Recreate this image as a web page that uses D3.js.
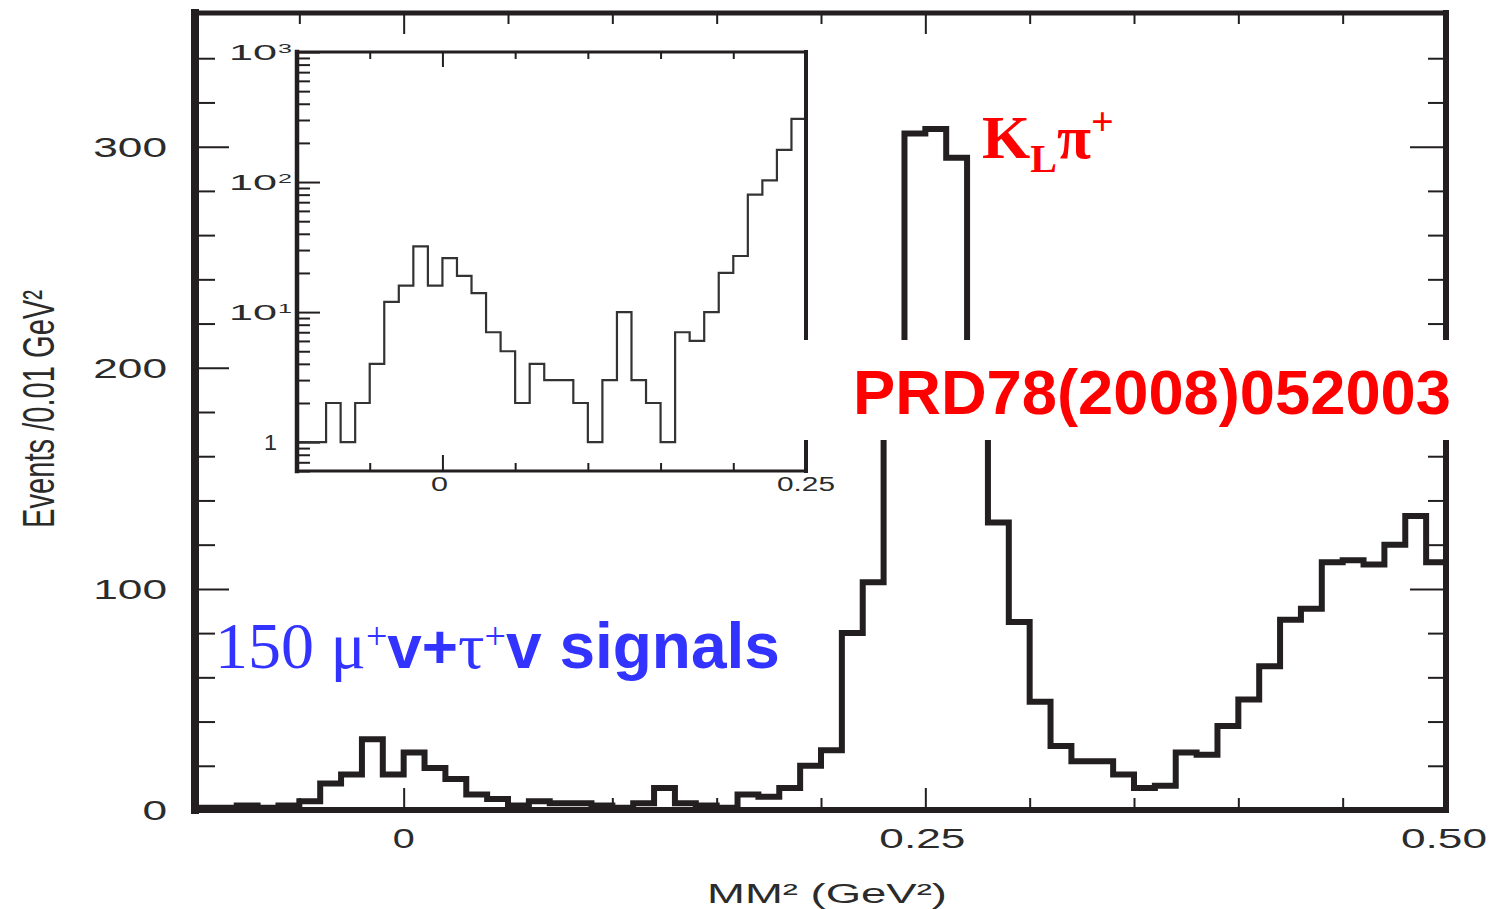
<!DOCTYPE html>
<html><head><meta charset="utf-8">
<script src="https://cdn.jsdelivr.net/npm/d3@7"></script>
<style>html,body{margin:0;padding:0;background:#fff;} svg{display:block}</style>
</head><body>
<svg id="c" width="1493" height="909"></svg>
<script>
// ---- data (events per 0.01 GeV^2 bin, lower bin edges) ----
const binLow = [-0.10,-0.09,-0.08,-0.07,-0.06,-0.05,-0.04,-0.03,-0.02,-0.01,
  0.00,0.01,0.02,0.03,0.04,0.05,0.06,0.07,0.08,0.09,
  0.10,0.11,0.12,0.13,0.14,0.15,0.16,0.17,0.18,0.19,
  0.20,0.21,0.22,0.23,0.24,0.25,0.26,0.27,0.28,0.29,
  0.30,0.31,0.32,0.33,0.34,0.35,0.36,0.37,0.38,0.39,
  0.40,0.41,0.42,0.43,0.44,0.45,0.46,0.47,0.48,0.49];
const counts = [1,1,2,1,2,4,12,16,32,16,
  26,19,14,7,5,2,4,3,3,2,
  1,3,10,3,2,1,7,6,10,20,
  27,80,103,177,306,308,295,190,130,85,
  49,29,22,22,16,10,11,26,25,38,
  50,65,86,91,112,113,111,120,133,112];
const binWidth = 0.01;

const mainYMajor = [0,100,200,300];
const mainYMinor = [20,40,60,80,120,140,160,180,220,240,260,280,320,340];
const mainYLabels = ["0","100","200","300"];
const mainXMajor = [0,0.25,0.5];
const mainXMinor = [-0.05,0.05,0.10,0.15,0.20,0.30,0.35,0.40,0.45];
const mainXLabels = ["0","0.25","0.50"];

const insetXMajor = [0,0.25];
const insetXMinor = [-0.05,0.05,0.10,0.15,0.20];
const insetXLabels = ["0","0.25"];
const insetYMajor = [1,10,100,1000];
const insetYBase = ["1","10","10","10"];
const insetYExp = ["","1","2","3"];

// ---- layout ----
const svg = d3.select("#c");
const INK = "#231f20";
const M = {left:195, right:1446, top:13, bottom:810};
const x = d3.scaleLinear().domain([-0.10,0.50]).range([M.left,1447]);
const y = d3.scaleLinear().domain([0,360]).range([M.bottom,14]);

const I = {left:297, right:806, top:52, bottom:471};
const ix = d3.scaleLinear().domain([-0.10,0.25]).range([I.left,I.right]);
const iy = d3.scaleLog().domain([0.6,1000]).range([I.bottom,I.top]);

function styleAxis(g, w){
  g.select(".domain").remove();
  g.selectAll(".tick line").attr("stroke",INK).attr("stroke-width",w);
  g.selectAll(".tick text").remove();
}

// main ticks
const gT = svg.append("g");
[[d3.axisRight, M.left, mainYMinor, 20],[d3.axisRight, M.left, mainYMajor, 34],
 [d3.axisLeft, M.right, mainYMinor, 18],[d3.axisLeft, M.right, mainYMajor, 36]].forEach(([ax,pos,vals,len])=>{
  gT.append("g").attr("transform",`translate(${pos},0)`)
    .call(ax(y).tickValues(vals).tickSize(len).tickFormat(""))
    .call(g=>styleAxis(g,2));
});
[[d3.axisBottom, M.top, mainXMinor, 11],[d3.axisBottom, M.top, mainXMajor, 21],
 [d3.axisTop, M.bottom, mainXMinor, 12],[d3.axisTop, M.bottom, mainXMajor, 22]].forEach(([ax,pos,vals,len])=>{
  gT.append("g").attr("transform",`translate(0,${pos})`)
    .call(ax(x).tickValues(vals).tickSize(len).tickFormat(""))
    .call(g=>styleAxis(g,2));
});

// main histogram
const pts = binLow.map((b,i)=>[b,counts[i]]);
pts.push([binLow[binLow.length-1]+binWidth, counts[counts.length-1]]);
const line = d3.line().x(d=>x(d[0])).y(d=>y(d[1])).curve(d3.curveStepAfter);
svg.append("path").attr("d",line(pts)).attr("fill","none")
  .attr("stroke",INK).attr("stroke-width",6).attr("stroke-linejoin","miter");

// main frame
const fr = svg.append("g").attr("stroke",INK).attr("stroke-linecap","square");
fr.append("line").attr("x1",M.left).attr("x2",M.left).attr("y1",M.top).attr("y2",M.bottom).attr("stroke-width",8);
fr.append("line").attr("x1",M.left).attr("x2",M.right).attr("y1",M.top).attr("y2",M.top).attr("stroke-width",5);
fr.append("line").attr("x1",M.right).attr("x2",M.right).attr("y1",M.top).attr("y2",M.bottom).attr("stroke-width",6);
fr.append("line").attr("x1",M.left).attr("x2",M.right).attr("y1",M.bottom).attr("y2",M.bottom).attr("stroke-width",6);

// main tick labels
const lab = svg.append("g").attr("font-family","Liberation Sans, Arial, sans-serif").attr("fill","#2b2b2b");
lab.selectAll(".yl").data(mainYMajor).join("text")
  .attr("x",167).attr("y",d=>y(d)+10).attr("text-anchor","end").attr("font-size",28)
  .attr("textLength",(d,i)=>mainYLabels[i].length*24.6).attr("lengthAdjust","spacingAndGlyphs")
  .text((d,i)=>mainYLabels[i]);
lab.selectAll(".xl").data(mainXMajor).join("text")
  .attr("x",(d,i)=>x(d)+(i===0?0:-3)).attr("y",848).attr("text-anchor","middle").attr("font-size",28)
  .attr("textLength",(d,i)=>mainXLabels[i].length===1?22:86).attr("lengthAdjust","spacingAndGlyphs")
  .text((d,i)=>mainXLabels[i]);
lab.append("text").attr("x",827).attr("y",903).attr("text-anchor","middle").attr("font-size",27)
  .attr("textLength",240).attr("lengthAdjust","spacingAndGlyphs").text("MM\u00B2 (GeV\u00B2)");
lab.append("text").attr("transform","translate(54,409) rotate(-90)").attr("text-anchor","middle")
  .attr("font-size",45).attr("textLength",238).attr("lengthAdjust","spacingAndGlyphs")
  .text("Events /0.01 GeV\u00B2");

// ---- inset ----
const ins = svg.append("g");
ins.append("rect").attr("x",I.left).attr("y",I.top).attr("width",I.right-I.left).attr("height",I.bottom-I.top).attr("fill","#fff");
const iMinor = iy.ticks().filter(v=>!insetYMajor.includes(v));
[[iMinor,13],[insetYMajor,23]].forEach(([vals,len])=>{
  ins.append("g").attr("transform",`translate(${I.left},0)`)
    .call(d3.axisRight(iy).tickValues(vals).tickSize(len).tickFormat(""))
    .call(g=>styleAxis(g,2));
});
[[d3.axisBottom, I.top, insetXMinor, 7],[d3.axisBottom, I.top, insetXMajor, 15],
 [d3.axisTop, I.bottom, insetXMinor, 8],[d3.axisTop, I.bottom, insetXMajor, 16]].forEach(([ax,pos,vals,len])=>{
  ins.append("g").attr("transform",`translate(0,${pos})`)
    .call(ax(ix).tickValues(vals).tickSize(len).tickFormat(""))
    .call(g=>styleAxis(g,2));
});
const ipts = binLow.map((b,i)=>[b,counts[i]]).filter(d=>d[0] < 0.25-1e-9);
ipts.push([ipts[ipts.length-1][0]+binWidth, ipts[ipts.length-1][1]]);
const iline = d3.line().x(d=>ix(d[0])).y(d=>iy(d[1])).curve(d3.curveStepAfter);
ins.append("path").attr("d",iline(ipts)).attr("fill","none").attr("stroke","#333").attr("stroke-width",2.2);
const ifr = ins.append("g").attr("stroke",INK).attr("stroke-linecap","square");
ifr.append("line").attr("x1",I.left).attr("x2",I.left).attr("y1",I.top).attr("y2",I.bottom).attr("stroke-width",4.5);
ifr.append("line").attr("x1",I.left).attr("x2",I.right).attr("y1",I.top).attr("y2",I.top).attr("stroke-width",3);
ifr.append("line").attr("x1",I.right).attr("x2",I.right).attr("y1",I.top).attr("y2",I.bottom).attr("stroke-width",4);
ifr.append("line").attr("x1",I.left).attr("x2",I.right).attr("y1",I.bottom).attr("y2",I.bottom).attr("stroke-width",3);

const il = ins.append("g").attr("font-family","Liberation Sans, Arial, sans-serif").attr("fill","#2b2b2b");
il.selectAll(".b").data(insetYMajor).join("text")
  .attr("x",277).attr("y",d=>iy(d)+8).attr("text-anchor","end").attr("font-size",22)
  .attr("textLength",(d,i)=>insetYBase[i].length===1?13:48).attr("lengthAdjust","spacingAndGlyphs")
  .text((d,i)=>insetYBase[i]);
il.selectAll(".e").data(insetYMajor.filter((d,i)=>insetYExp[i]!=="")).join("text")
  .attr("x",278).attr("y",d=>iy(d)+1).attr("font-size",12)
  .attr("textLength",14).attr("lengthAdjust","spacingAndGlyphs")
  .text(d=>insetYExp[insetYMajor.indexOf(d)]);
il.selectAll(".xl").data(insetXMajor).join("text")
  .attr("x",(d,i)=>ix(d)-(i===0?3:0)).attr("y",491).attr("text-anchor","middle").attr("font-size",20)
  .attr("textLength",(d,i)=>insetXLabels[i].length===1?17:58).attr("lengthAdjust","spacingAndGlyphs")
  .text((d,i)=>insetXLabels[i]);

// ---- annotations ----
svg.append("rect").attr("x",800).attr("y",340).attr("width",665).attr("height",100).attr("fill","#fff");
svg.append("text").attr("x",853).attr("y",414).attr("font-family","Liberation Sans, Arial, sans-serif")
  .attr("font-weight","bold").attr("font-size",63).attr("fill","#ff0000")
  .attr("textLength",598).attr("lengthAdjust","spacingAndGlyphs").text("PRD78(2008)052003");

const kl = svg.append("text").attr("x",982).attr("y",158).attr("font-family","Liberation Serif, Times New Roman, serif")
  .attr("font-weight","bold").attr("font-size",62).attr("fill","#ff0000");
kl.append("tspan").text("K");
kl.append("tspan").attr("font-size",40).attr("dy",14).text("L");
kl.append("tspan").attr("dy",-14).text("\u03C0");
kl.append("tspan").attr("font-size",40).attr("dy",-23).text("+");

const bl = svg.append("text").attr("x",215).attr("y",668).attr("fill","#3333ff").attr("font-size",66)
  .attr("font-family","Liberation Serif, Times New Roman, serif");
bl.append("tspan").text("150 \u03BC");
bl.append("tspan").attr("font-size",38).attr("dy",-19).text("+");
bl.append("tspan").attr("dy",19).attr("font-family","Liberation Sans, Arial, sans-serif").attr("font-weight","bold").attr("font-size",62).text("v+");
bl.append("tspan").text("\u03C4");
bl.append("tspan").attr("font-size",38).attr("dy",-19).text("+");
bl.append("tspan").attr("dy",19).attr("font-family","Liberation Sans, Arial, sans-serif").attr("font-weight","bold").attr("font-size",64).text("v signals");
</script>
</body></html>
